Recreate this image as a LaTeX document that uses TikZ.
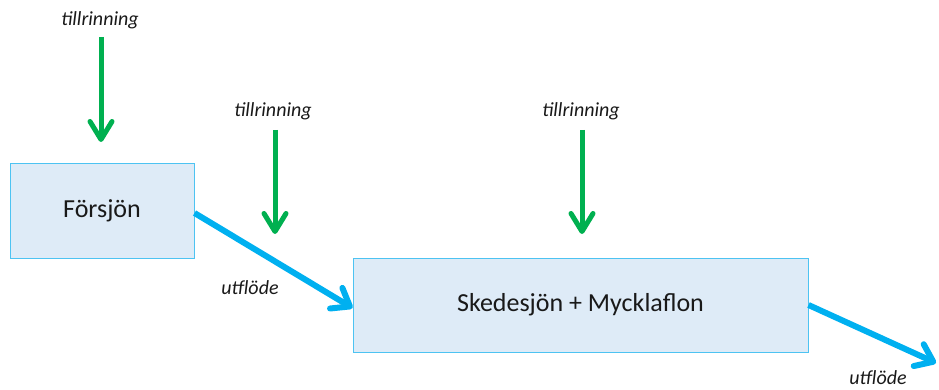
\documentclass[tikz,border=0pt]{standalone}
\usepackage{fontspec}
\setmainfont{Carlito}
\usetikzlibrary{arrows.meta}
\definecolor{boxfill}{HTML}{DEEBF7}
\definecolor{boxline}{HTML}{4DC3F2}
\definecolor{flowblue}{HTML}{00B0F0}
\definecolor{flowgreen}{HTML}{00B050}
\tikzset{
  lake/.style={draw=boxline, line width=1pt, fill=boxfill, inner sep=0pt, font=\fontsize{26}{30}\selectfont, text=black!90},
  inflow/.style={draw=flowgreen, line width=5pt, -{Straight Barb[length=18pt,width=22pt,round]}},
  outflow/.style={draw=flowblue, line width=6pt, -{Straight Barb[length=16pt,width=24pt,round]}},
  lbl/.style={font=\fontsize{20}{24}\selectfont\itshape, text=black!90, inner sep=0pt}
}
\begin{document}
\begin{tikzpicture}[x=1pt,y=-1pt]
\useasboundingbox (0,0) rectangle (939,390);
\node[lake, minimum width=184pt, minimum height=94pt] (F) at (102,211) {Försjön};
\node[lake, minimum width=455pt, minimum height=94pt] (S) at (580.5,305) {Skedesjön + Mycklaflon};
\node[lbl] (t1) at (100,20) {tillrinning};
\node[lbl] (t2) at (273,111) {tillrinning};
\node[lbl] (t3) at (581,111) {tillrinning};
\node[lbl] (u1) at (250,288) {utflöde};
\node[lbl] (u2) at (878,378) {utflöde};
\coordinate (a1s) at (101,37);
\coordinate (a1e) at (101,142);
\coordinate (a2s) at (275,130);
\coordinate (a2e) at (275,234);
\coordinate (a3s) at (582,130);
\coordinate (a3e) at (582,234);
\coordinate (b2e) at (936,363);
\draw[inflow] (a1s) -- (a1e);
\draw[inflow] (a2s) -- (a2e);
\draw[inflow] (a3s) -- (a3e);
\draw[outflow] ([yshift=-2pt]F.east) -- ([yshift=-3pt]S.west);
\draw[outflow] (S.east) -- (b2e);
\end{tikzpicture}
\end{document}
